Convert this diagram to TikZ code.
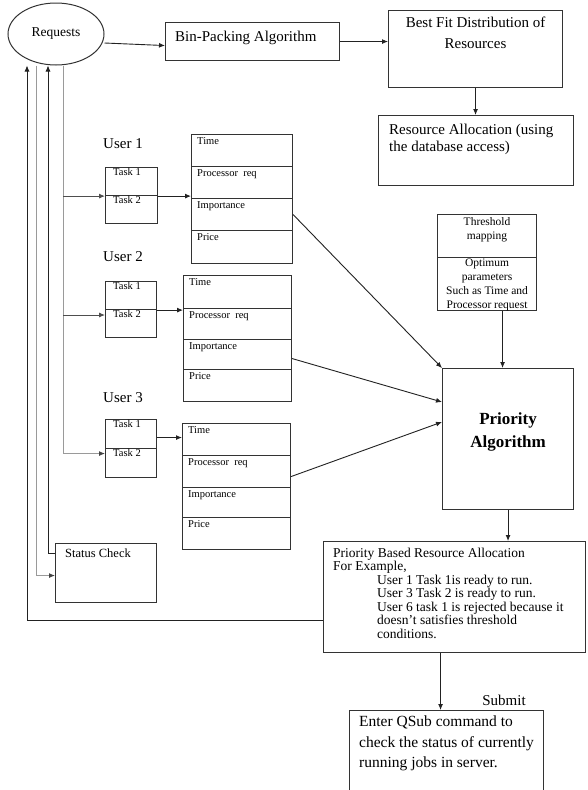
\documentclass[tikz,border=0pt]{standalone}
\usepackage{fontspec}
\setmainfont{Liberation Serif}
\usetikzlibrary{arrows.meta,shapes.geometric}
\definecolor{boxc}{HTML}{333333}
\definecolor{darkl}{HTML}{222222}
\definecolor{grayl}{HTML}{9A9A9A}
\newcommand\fs[2]{\fontsize{#1}{#2}\selectfont}
\newcommand\cellnode[5]{\node[bx, minimum width=#4, minimum height=#5] (#1) at (#2,#3) {};}
\begin{document}
\begin{tikzpicture}[x=1pt,y=-1pt,
  bx/.style={draw=boxc, line width=1.1pt, inner sep=0pt, anchor=north west},
  lbl/.style={inner sep=0pt, anchor=north west, align=left},
  small/.style={lbl, font=\fs{10.5}{12}},
  big/.style={inner sep=0pt, font=\fs{15}{18}},
  arr/.style={draw=darkl, line width=0.9pt, -{Latex[length=6pt,width=5pt]}},
  garr/.style={draw=grayl, line width=0.9pt, -{Latex[length=6pt,width=5pt,fill=darkl!85,color=darkl!85]}}]
\clip (0,0) rectangle (587,790);
\fill[white] (0,0) rectangle (587,790);

% top row
\node[draw=boxc, line width=1pt, ellipse, minimum width=96pt, minimum height=62pt, inner sep=0pt, font=\fs{13.5}{16}] (req) at (56,34) {Requests};
\node[bx, minimum width=174pt, minimum height=38pt] (bin) at (165,22) {};
\node[big, anchor=west] (bint) at (175,38) {Bin-Packing Algorithm};
\node[bx, minimum width=174pt, minimum height=77pt] (best) at (388,10) {};
\node[big, font=\fs{15}{21}, align=center, anchor=north, yshift=-7pt] (bestt) at (best.north) {Best Fit Distribution of\\Resources};
\node[bx, minimum width=195pt, minimum height=70pt] (res) at (378,115) {};
\node[lbl, font=\fs{15}{17}, xshift=11pt, yshift=-9pt] (rest) at (res.north west) {Resource Allocation (using\\the database access)};

% user labels
\node[big, anchor=west] (u1) at (103,144) {User 1};
\node[big, anchor=west] (u2) at (103,257) {User 2};
\node[big, anchor=west] (u3) at (103,398) {User 3};

% task boxes
\cellnode{t1a}{105}{167}{52pt}{28pt}
\cellnode{t1b}{105}{195}{52pt}{28pt}
\cellnode{t2a}{105}{281}{51pt}{28pt}
\cellnode{t2b}{105}{309}{51pt}{28pt}
\cellnode{t3a}{105}{419}{51pt}{29pt}
\cellnode{t3b}{105}{448}{51pt}{29pt}
\foreach \n/\t in {t1a/Task 1,t1b/Task 2,t2a/Task 1,t2b/Task 2,t3a/Task 1,t3b/Task 2}
  \node[small, xshift=8pt, yshift=-1.5pt] (\n t) at (\n.north west) {\t};

% attribute boxes
\cellnode{a1a}{191}{134}{101pt}{32pt}
\cellnode{a1b}{191}{166}{101pt}{32pt}
\cellnode{a1c}{191}{198}{101pt}{32pt}
\cellnode{a1d}{191}{230}{101pt}{33pt}
\cellnode{a2a}{183}{275}{108pt}{33pt}
\cellnode{a2b}{183}{308}{108pt}{31pt}
\cellnode{a2c}{183}{339}{108pt}{30pt}
\cellnode{a2d}{183}{369}{108pt}{32pt}
\cellnode{a3a}{182}{423}{108pt}{32pt}
\cellnode{a3b}{182}{455}{108pt}{32pt}
\cellnode{a3c}{182}{487}{108pt}{30pt}
\cellnode{a3d}{182}{517}{108pt}{32pt}
\foreach \u in {1,2,3}{
  \node[small, xshift=6pt, yshift=-3pt] (a\u at) at (a\u a.north west) {Time};
  \node[small, xshift=6pt, yshift=-3pt] (a\u bt) at (a\u b.north west) {Processor~ req};
  \node[small, xshift=6pt, yshift=-3pt] (a\u ct) at (a\u c.north west) {Importance};
  \node[small, xshift=6pt, yshift=-3pt] (a\u dt) at (a\u d.north west) {Price};
}

% threshold box
\node[bx, minimum width=99pt, minimum height=43pt] (tha) at (437,214) {};
\node[bx, minimum width=99pt, minimum height=53pt] (thb) at (437,257) {};
\node[inner sep=0pt, font=\fs{11.5}{14}, align=center, anchor=north, yshift=-3pt] (thta) at (tha.north) {Threshold\\mapping};
\node[inner sep=0pt, font=\fs{11.5}{14}, align=center, anchor=north, yshift=-2pt] (thtb) at (thb.north) {Optimum\\parameters\\Such as Time and\\Processor request};

% priority algorithm
\node[bx, minimum width=131pt, minimum height=141pt] (pa) at (442,368) {};
\node[inner sep=0pt, font=\bfseries\fs{17}{23}, align=center, yshift=7pt] (pat) at (pa.center) {Priority\\Algorithm};

% status check
\node[bx, minimum width=101pt, minimum height=59pt] (sc) at (55,543) {};
\node[lbl, font=\fs{12.5}{15}, xshift=10pt, yshift=-6pt] (sct) at (sc.north west) {Status Check};

% priority based resource allocation
\node[bx, minimum width=262pt, minimum height=111pt] (pb) at (323,541) {};
\node[lbl, font=\fs{13.5}{13.5}, xshift=10pt, yshift=-6.5pt] (pbt) at (pb.north west) {Priority Based Resource Allocation\\For Example,\\\hspace*{44pt}User 1 Task 1is ready to run.\\\hspace*{44pt}User 3 Task 2 is ready to run.\\\hspace*{44pt}User 6 task 1 is rejected because it\\\hspace*{44pt}doesn’t satisfies threshold\\\hspace*{44pt}conditions.};

\node[big] (sub) at (504,700) {Submit};
\node[bx, minimum width=194pt, minimum height=95pt] (qs) at (349,710) {};
\node[lbl, font=\fs{15.5}{20.5}, xshift=10pt, yshift=-6pt] (qst) at (qs.north west) {Enter QSub command to\\check the status of currently\\running jobs in server.};

% connectors top
\draw[arr] ([yshift=-9pt]req.east) -- ([yshift=-4pt]bin.west);
\draw[arr] (bin.east) -- (bin.east -| best.west);
\draw[arr] (best.south) -- (best.south |- res.north);

% left trunk lines
\coordinate (xa) at (27,0);
\coordinate (xb) at (36,0);
\coordinate (xc) at (48,0);
\coordinate (xd) at (63,0);
\coordinate (e2) at ([yshift=-6pt]t2b.north west);
\coordinate (e3) at ([yshift=9.5pt]t3b.west);
\draw[garr] (req.south -| xd) |- (e3);
\draw[arr, draw=darkl!80] (t1a.south west -| xd) -- (t1a.south west);
\draw[arr, draw=darkl!80] (e2 -| xd) -- (e2);

\coordinate (eA) at ([yshift=-23.5pt]pb.west);
\draw[arr] (eA) -| (req.south -| xa);
\coordinate (eB) at ([yshift=-2.5pt]sc.west);
\draw[garr] (req.south -| xb) |- (eB);
\coordinate (eC) at ([yshift=19.5pt]sc.west);
\draw[arr] (eC) -| (req.south -| xc);

% tasks to attributes
\draw[arr] (t1a.south east) -- (t1a.south east -| a1b.west);
\draw[arr] (t2a.south east) -- (t2a.south east -| a2b.west);
\coordinate (e4) at ([yshift=-3.5pt]t3a.east);
\draw[arr] (e4) -- (e4 -| a3a.west);

% attributes to priority
\draw[arr] (a1c.east) -- (pa.north west);
\draw[arr] ([yshift=-4pt]a2c.east) -- ([yshift=-34pt]pa.north west);
\draw[arr] ([yshift=-5pt]a3b.east) -- ([yshift=-54pt]pa.north west);

% threshold to priority
\coordinate (thx) at ([xshift=15.5pt]thb.south);
\draw[arr] (thx) -- (thx |- pa.north);

% priority to allocation, allocation to qsub
\draw[arr] (pa.south) -- (pa.south |- pb.north);
\coordinate (pbx) at ([xshift=-14pt]pb.south);
\draw[arr] (pbx) -- (pbx |- qs.north);
\end{tikzpicture}
\end{document}
